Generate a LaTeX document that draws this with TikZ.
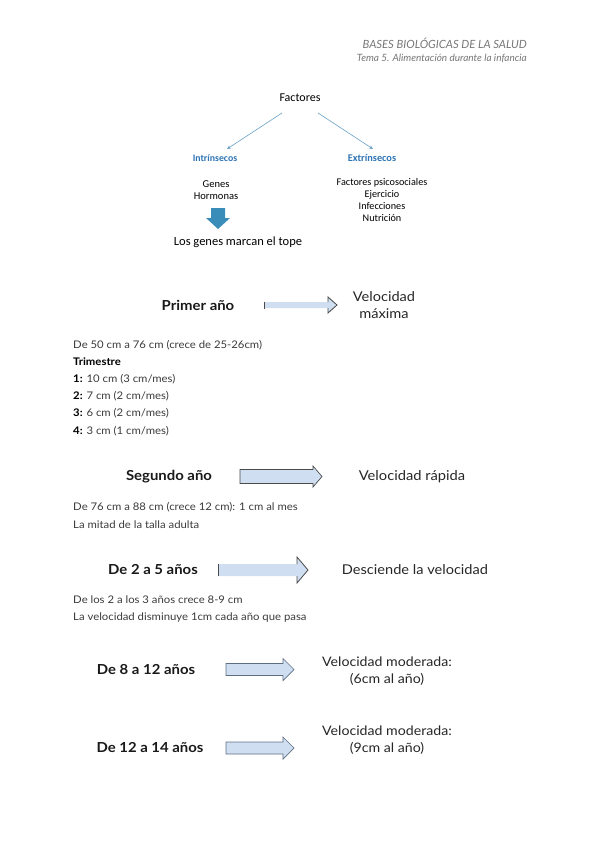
\documentclass[tikz,border=0pt]{standalone}
\usepackage{fontspec}
\setmainfont{Lato}[FakeStretch=1.08]
\newfontfamily\hdrfont{Lato}
\newfontfamily\calib{Carlito}
\usetikzlibrary{arrows.meta}
\definecolor{arrfill}{HTML}{CFDFF1}
\definecolor{arrline}{HTML}{4A4A4A}
\definecolor{arrline2}{HTML}{5F6F82}
\definecolor{hdr}{HTML}{767676}
\definecolor{fblue}{HTML}{2E74B5}
\definecolor{fline}{HTML}{6AA0C6}
\definecolor{dnarrow}{HTML}{3A8DB9}
\definecolor{txt}{HTML}{3A3A3A}
\newcommand\blkarrow[7]{% x1, xh, x2, yc, half body, half head, style
  \path[#7] (#1,#4-#5) -- (#2,#4-#5) -- (#2,#4-#6) -- (#3,#4) -- (#2,#4+#6) -- (#2,#4+#5) -- (#1,#4+#5) -- cycle;}
\begin{document}
\begin{tikzpicture}[x=1pt,y=-1pt,
  every node/.style={inner sep=0pt, text=txt},
  hdrtext/.style={anchor=east, text=hdr},
  fsmall/.style={font=\calib\fontsize{10.5}{12.5}\selectfont, text=black},
  fhead/.style={font=\calib\bfseries\fontsize{9.8}{11}\selectfont, text=fblue},
  bodytext/.style={anchor=west, font=\fontsize{10.5}{12}\selectfont},
  bigbold/.style={font=\bfseries\fontsize{13.8}{16}\selectfont, text=black!90},
  bigreg/.style={font=\fontsize{13.5}{17}\selectfont, align=center, text=black!85},
  farrow/.style={draw=fline, line width=0.6pt, -{Stealth[length=4pt,width=3.5pt]}},
  fullarrow/.style={fill=arrfill, draw=arrline, line width=0.7pt},
  fullarrowb/.style={fill=arrfill, draw=arrline2, line width=0.7pt},
  fillarrow/.style={fill=arrfill},
  edgeline/.style={draw=arrline, line width=0.8pt}
]
\path[use as bounding box] (0,0) rectangle (600,848);

% header
\node[hdrtext, font=\hdrfont\itshape\fontsize{11.3}{13}\selectfont] (h1) at (527,43) {BASES BIOLÓGICAS DE LA SALUD};
\node[hdrtext, font=\hdrfont\itshape\fontsize{10}{12}\selectfont] (h2) at (527,58) {Tema 5. Alimentación durante la infancia};

% Factores diagram
\node[fsmall, font=\calib\fontsize{12}{14}\selectfont] (fac) at (300,98) {Factores};
\node[fhead] (intr) at (215,158) {Intrínsecos};
\node[fhead, font=\calib\bfseries\fontsize{10.3}{11}\selectfont] (extr) at (372,158) {Extrínsecos};
\draw[farrow] (282,113) -- (227,149);
\draw[farrow] (318,113) -- (373,149);
\node[fsmall, align=center] (gen) at (216,190) {Genes\\Hormonas};
\node[fsmall, font=\calib\fontsize{10.2}{12.2}\selectfont, align=center] (ext) at (382,200) {Factores psicosociales\\Ejercicio\\Infecciones\\Nutrición};
\path[fill=dnarrow] (211,208) -- (225,208) -- (225,218) -- (230,218) -- (218,229) -- (206,218) -- (211,218) -- cycle;
\node[fsmall, font=\calib\fontsize{12.5}{14}\selectfont] (tope) at (238,242) {Los genes marcan el tope};

% Primer año
\node[bigbold] (p1) at (198,305) {Primer año};
\blkarrow{264}{328}{337}{305}{3}{8}{fillarrow}
\draw[edgeline] (264,301.5) -- (264,308.5);
\draw[edgeline] (328,302) -- (328,297) -- (337,305) -- (328,313) -- (328,308);
\node[bigreg] (v1) at (384,305) {Velocidad\\máxima};

\node[bodytext] (t1) at (73,345) {De 50 cm a 76 cm (crece de 25-26cm)};
\node[bodytext, font=\bfseries\fontsize{10.5}{12}\selectfont, text=black] (t2) at (73,362) {Trimestre};
\node[bodytext] (t3) at (73,379) {\textbf{\color{black}1:} 10 cm (3 cm/mes)};
\node[bodytext] (t4) at (73,396) {\textbf{\color{black}2:} 7 cm (2 cm/mes)};
\node[bodytext] (t5) at (73,413) {\textbf{\color{black}3:} 6 cm (2 cm/mes)};
\node[bodytext] (t6) at (73,431) {\textbf{\color{black}4:} 3 cm (1 cm/mes)};

% Segundo año
\node[bigbold] (p2) at (169,477) {Segundo año};
\blkarrow{240}{313}{322}{476.5}{7}{10.5}{fullarrow}
\node[bigreg, font=\fontsize{13.6}{17}\selectfont] (v2) at (412,477) {Velocidad rápida};
\node[bodytext] (s1) at (73,507) {De 76 cm a 88 cm (crece 12 cm): 1 cm al mes};
\node[bodytext] (s2) at (73,525) {La mitad de la talla adulta};

% De 2 a 5
\node[bigbold] (p3) at (153,570) {De 2 a 5 años};
\blkarrow{218}{297}{308}{570}{6}{13}{fillarrow}
\draw[edgeline] (218,564) -- (218,576);
\draw[edgeline] (297,564) -- (297,557) -- (308,570) -- (297,583) -- (297,576);
\node[bigreg] (v3) at (415,570) {Desciende la velocidad};
\node[bodytext] (d1) at (73,600) {De los 2 a los 3 años crece 8-9 cm};
\node[bodytext] (d2) at (73,618) {La velocidad disminuye 1cm cada año que pasa};

% De 8 a 12
\node[bigbold] (p4) at (146,670) {De 8 a 12 años};
\blkarrow{226}{283}{294}{669.5}{6}{11}{fullarrowb}
\node[bigreg, font=\fontsize{13.1}{17}\selectfont] (v4) at (387,671) {Velocidad moderada:\\(6cm al año)};

% De 12 a 14
\node[bigbold] (p5) at (150,748) {De 12 a 14 años};
\blkarrow{226}{283}{294}{748}{6}{11}{fullarrowb}
\node[bigreg, font=\fontsize{13.1}{17}\selectfont] (v5) at (387,740) {Velocidad moderada:\\(9cm al año)};
\end{tikzpicture}
\end{document}
